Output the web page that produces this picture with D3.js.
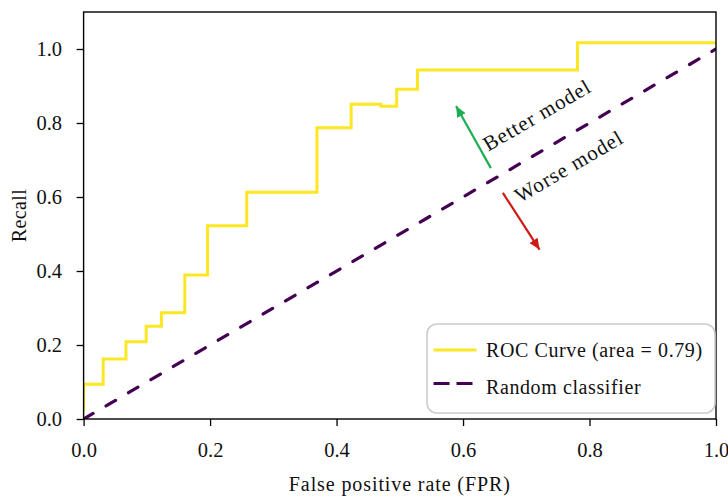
<!DOCTYPE html>
<html>
<head>
<meta charset="utf-8">
<script src="https://cdn.jsdelivr.net/npm/d3@7"></script>
<style>
  html, body { margin: 0; padding: 0; background: #ffffff; }
  svg { display: block; }
  text { font-family: "Liberation Serif", "Times New Roman", serif; fill: #111; }
</style>
</head>
<body>
<svg id="chart" width="728" height="497"></svg>
<script>
// ROC curve points (step function, held until the next FPR value)
const rocFpr = [0, 0, 0.031, 0.067, 0.099, 0.123, 0.160, 0.196, 0.258, 0.369, 0.423, 0.470, 0.495, 0.528, 0.781, 1.0];
const rocTpr = [0.02, 0.094, 0.162, 0.209, 0.251, 0.287, 0.389, 0.522, 0.613, 0.787, 0.851, 0.845, 0.891, 0.943, 1.017, 1.017];

// Chance diagonal
const randFpr = [0, 1];
const randTpr = [0, 1];

// Tick values
const xTicks = [0.0, 0.2, 0.4, 0.6, 0.8, 1.0];
const yTicks = [0.0, 0.2, 0.4, 0.6, 0.8, 1.0];

// Legend entries
const legendLabels = ["ROC Curve (area = 0.79)", "Random classifier"];

// Annotation arrows: [tailX, tailY, tipX, tipY] in data units
const betterArrow = [0.644, 0.678, 0.589, 0.846];
const worseArrow = [0.663, 0.611, 0.721, 0.458];
const betterText = { label: "Better model", x: 0.640, y: 0.722 };
const worseText = { label: "Worse model", x: 0.690, y: 0.583 };

const W = 728, H = 497;
const margin = { top: 12, right: 12, bottom: 78, left: 83.6 };

const svg = d3.select("#chart");

const x = d3.scaleLinear().domain([0, 1]).range([margin.left, W - margin.right]);
const y = d3.scaleLinear().domain([0, 1.1]).range([H - margin.bottom, margin.top]);

const YELLOW = "#fde725";
const PURPLE = "#440154";
const GREEN = "#1fae55";
const RED = "#cc1a14";

// Axes
const xAxis = d3.axisBottom(x).tickValues(xTicks).tickFormat(d3.format(".1f"))
  .tickSize(7).tickPadding(16.5);
const yAxis = d3.axisLeft(y).tickValues(yTicks).tickFormat(d3.format(".1f"))
  .tickSize(7).tickPadding(14.6);

const gx = svg.append("g").attr("transform", `translate(0,${y(0)})`).call(xAxis);
const gy = svg.append("g").attr("transform", `translate(${x(0)},0)`).call(yAxis);
[gx, gy].forEach(g => {
  g.select(".domain").remove();
  g.selectAll(".tick line").attr("stroke", "#000").attr("stroke-width", 1.3);
  g.selectAll(".tick text").attr("font-size", 20.5)
    .attr("font-family", "Liberation Serif, serif").attr("fill", "#111");
});

// Clip to the axes box
svg.append("clipPath").attr("id", "plotClip")
  .append("rect")
  .attr("x", x(0)).attr("y", y(1.1))
  .attr("width", x(1) - x(0)).attr("height", y(0) - y(1.1));

const plot = svg.append("g").attr("clip-path", "url(#plotClip)");

// ROC curve
const rocLine = d3.line()
  .x((d, i) => x(rocFpr[i]))
  .y((d, i) => y(rocTpr[i]))
  .curve(d3.curveStepAfter);

plot.append("path")
  .attr("d", rocLine(rocFpr))
  .attr("fill", "none")
  .attr("stroke", YELLOW)
  .attr("stroke-width", 3);

// Random classifier
const randLine = d3.line()
  .x((d, i) => x(randFpr[i]))
  .y((d, i) => y(randTpr[i]));

plot.append("path")
  .attr("d", randLine(randFpr))
  .attr("fill", "none")
  .attr("stroke", PURPLE)
  .attr("stroke-width", 3.2)
  .attr("stroke-linecap", "round")
  .attr("stroke-dasharray", "11,15");

// Arrow markers
const defs = svg.append("defs");
[["headGreen", GREEN], ["headRed", RED]].forEach(([id, c]) => {
  defs.append("marker")
    .attr("id", id)
    .attr("markerUnits", "userSpaceOnUse")
    .attr("viewBox", "0 -6 12 12")
    .attr("refX", 11).attr("refY", 0)
    .attr("markerWidth", 12).attr("markerHeight", 12)
    .attr("orient", "auto")
    .append("path")
    .attr("d", "M0,-4.8L11,0L0,4.8Z")
    .attr("fill", c);
});

function drawArrow(a, color, marker) {
  svg.append("line")
    .attr("x1", x(a[0])).attr("y1", y(a[1]))
    .attr("x2", x(a[2])).attr("y2", y(a[3]))
    .attr("stroke", color)
    .attr("stroke-width", 2.2)
    .attr("marker-end", `url(#${marker})`);
}
drawArrow(betterArrow, GREEN, "headGreen");
drawArrow(worseArrow, RED, "headRed");

// Rotated annotation labels, aligned with the diagonal
[betterText, worseText].forEach(t => {
  svg.append("text")
    .attr("transform", `translate(${x(t.x)},${y(t.y)}) rotate(-30.3)`)
    .attr("font-size", 21)
    .attr("letter-spacing", 1.0)
    .text(t.label);
});

// Axes frame
svg.append("rect")
  .attr("x", x(0)).attr("y", y(1.1))
  .attr("width", x(1) - x(0)).attr("height", y(0) - y(1.1))
  .attr("fill", "none")
  .attr("stroke", "#000")
  .attr("stroke-width", 1.4);

// Legend
const leg = svg.append("g");
leg.append("rect")
  .attr("x", 427).attr("y", 324)
  .attr("width", 288).attr("height", 89)
  .attr("rx", 10).attr("ry", 10)
  .attr("fill", "#fff")
  .attr("stroke", "#cccccc")
  .attr("stroke-width", 1.6);

const legRows = [
  { color: YELLOW, dash: null, width: 3, y: 350, textY: 357 },
  { color: PURPLE, dash: "16,7", width: 3.2, y: 383.5, textY: 394 }
];
legRows.forEach((r, i) => {
  leg.append("line")
    .attr("x1", 433.5).attr("x2", 476.5)
    .attr("y1", r.y).attr("y2", r.y)
    .attr("stroke", r.color)
    .attr("stroke-width", r.width)
    .attr("stroke-dasharray", r.dash);
  leg.append("text")
    .attr("x", 486).attr("y", r.textY)
    .attr("font-size", 20)
    .attr("letter-spacing", 0.6)
    .text(legendLabels[i]);
});

// Axis titles
svg.append("text")
  .attr("x", (x(0) + x(1)) / 2).attr("y", 491)
  .attr("text-anchor", "middle")
  .attr("font-size", 20)
  .attr("letter-spacing", 0.9)
  .text("False positive rate (FPR)");

svg.append("text")
  .attr("transform", `translate(26,${(y(0) + y(1.1)) / 2}) rotate(-90)`)
  .attr("text-anchor", "middle")
  .attr("font-size", 20)
  .attr("letter-spacing", 0.4)
  .text("Recall");
</script>
</body>
</html>
